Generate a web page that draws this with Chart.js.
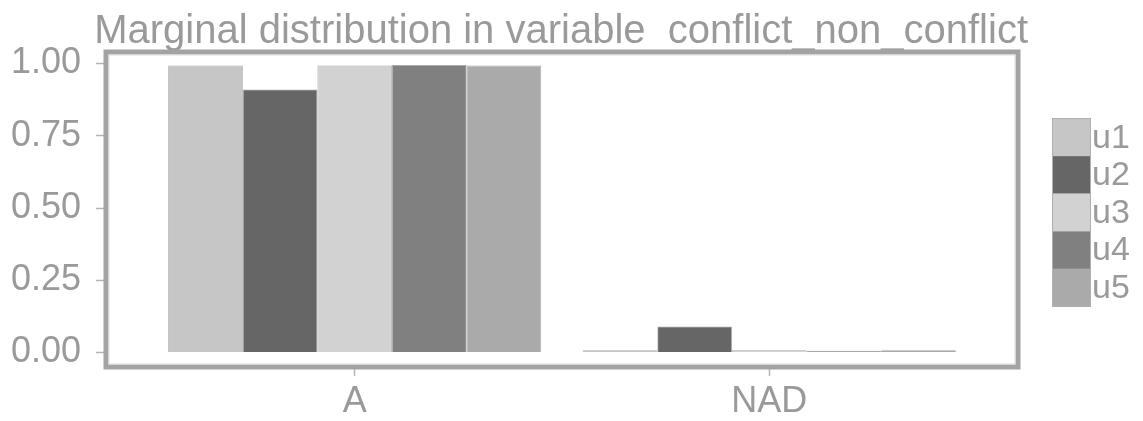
<!DOCTYPE html>
<html>
<head>
<meta charset="utf-8">
<script src="https://cdn.jsdelivr.net/npm/chart.js@4"></script>
<style>
  body { margin: 0; background: #fff; }
  #wrap { width: 1143px; height: 421px; position: relative; }
</style>
</head>
<body>
<div id="wrap"><canvas id="myChart"></canvas></div>
<script>
// categories and series
var categories = ['A', 'NAD'];
var seriesNames = ['u1', 'u2', 'u3', 'u4', 'u5'];
var u1 = [0.993, 0.008];
var u2 = [0.91, 0.09];
var u3 = [0.993, 0.008];
var u4 = [0.995, 0.006];
var u5 = [0.993, 0.008];
var yTicks = [0, 0.25, 0.5, 0.75, 1];

var seriesValues = [u1, u2, u3, u4, u5];
var fills = ['#c6c6c6', '#666666', '#d2d2d2', '#808080', '#aaaaaa'];
var textGray = '#9a9a9a';
var font = '"Liberation Sans", Arial, sans-serif';

// x is a linear axis so the category spacing can match ggplot's expansion
var datasets = seriesNames.map(function (name, i) {
    return {
        label: name,
        data: seriesValues[i].map(function (v, j) { return { x: j + 1, y: v }; }),
        backgroundColor: fills[i],
        borderColor: '#a5a5a5',
        borderWidth: 0.8,
        categoryPercentage: 0.9,
        barPercentage: 1.0
    };
});

// panel border around the plotting area
var panelBorder = {
    id: 'panelBorder',
    afterDatasetsDraw: function (chart) {
        var a = chart.chartArea, c = chart.ctx;
        c.save();
        c.strokeStyle = '#a3a3a3';
        c.lineWidth = 5;
        c.strokeRect(a.left, a.top, a.right - a.left, a.bottom - a.top);
        c.strokeStyle = '#dcdcdc';
        c.lineWidth = 1;
        c.strokeRect(a.left + 3, a.top + 3, a.right - a.left - 6, a.bottom - a.top - 6);
        c.restore();
    }
};

// stacked key boxes on the right, like the ggplot legend
var keyLegend = {
    id: 'keyLegend',
    afterDraw: function (chart) {
        var c = chart.ctx;
        var x = 1052, y = 118.5, w = 38, h = 37.6;
        c.save();
        c.font = '34px ' + font;
        c.textBaseline = 'middle';
        c.textAlign = 'left';
        chart.data.datasets.forEach(function (ds, i) {
            var top = y + i * h;
            c.fillStyle = ds.backgroundColor;
            c.fillRect(x, top, w, h);
            c.fillStyle = textGray;
            c.fillText(ds.label, x + w + 2, top + h / 2 + 1);
        });
        c.strokeStyle = '#b0b0b0';
        c.lineWidth = 1;
        c.strokeRect(x + 0.5, y, w, h * chart.data.datasets.length);
        c.restore();
    }
};

var ctx = document.getElementById('myChart').getContext('2d');
var myChart = new Chart(ctx, {
    type: 'bar',
    data: { datasets: datasets },
    plugins: [panelBorder, keyLegend],
    options: {
        responsive: true,
        maintainAspectRatio: false,
        animation: false,
        layout: { padding: { left: 0, right: 115, top: 0, bottom: 0 } },
        plugins: {
            legend: { display: false },
            tooltip: { enabled: false },
            title: {
                display: true,
                align: 'end', // ends just past the panel's right edge
                text: 'Marginal distribution in variable  conflict_non_conflict',
                color: textGray,
                font: { family: font, size: 40, weight: 'normal', lineHeight: 1.0 },
                padding: { top: 12, bottom: 0 }
            }
        },
        scales: {
            x: {
                type: 'linear',
                min: 0.4,
                max: 2.6,
                offset: false,
                afterBuildTicks: function (scale) {
                    scale.ticks = categories.map(function (c, i) { return { value: i + 1 }; });
                },
                afterFit: function (scale) { scale.height = 54; },
                grid: {
                    offset: false,
                    drawOnChartArea: false,
                    drawTicks: true,
                    tickLength: 9,
                    tickWidth: 1.5,
                    tickColor: '#b5b5b5'
                },
                border: { display: false },
                ticks: {
                    color: textGray,
                    font: { family: font, size: 36 },
                    padding: 4,
                    maxRotation: 0,
                    callback: function (v) { return categories[Math.round(v) - 1]; }
                }
            },
            y: {
                min: -0.05,
                max: 1.04,
                afterBuildTicks: function (scale) {
                    scale.ticks = yTicks.map(function (v) { return { value: v }; });
                },
                afterFit: function (scale) { scale.width = 106; },
                grid: {
                    drawOnChartArea: false,
                    drawTicks: true,
                    tickLength: 10,
                    tickWidth: 1.5,
                    tickColor: '#b5b5b5'
                },
                border: { display: false },
                ticks: {
                    color: textGray,
                    font: { family: font, size: 36 },
                    padding: 15,
                    callback: function (v) { return v.toFixed(2); }
                }
            },
            // empty right axis, only a 10px spacer between panel and title end
            yRight: {
                type: 'linear',
                position: 'right',
                afterFit: function (scale) { scale.width = 10; },
                grid: { display: false },
                border: { display: false },
                ticks: { display: false }
            }
        }
    }
});
</script>
</body>
</html>
